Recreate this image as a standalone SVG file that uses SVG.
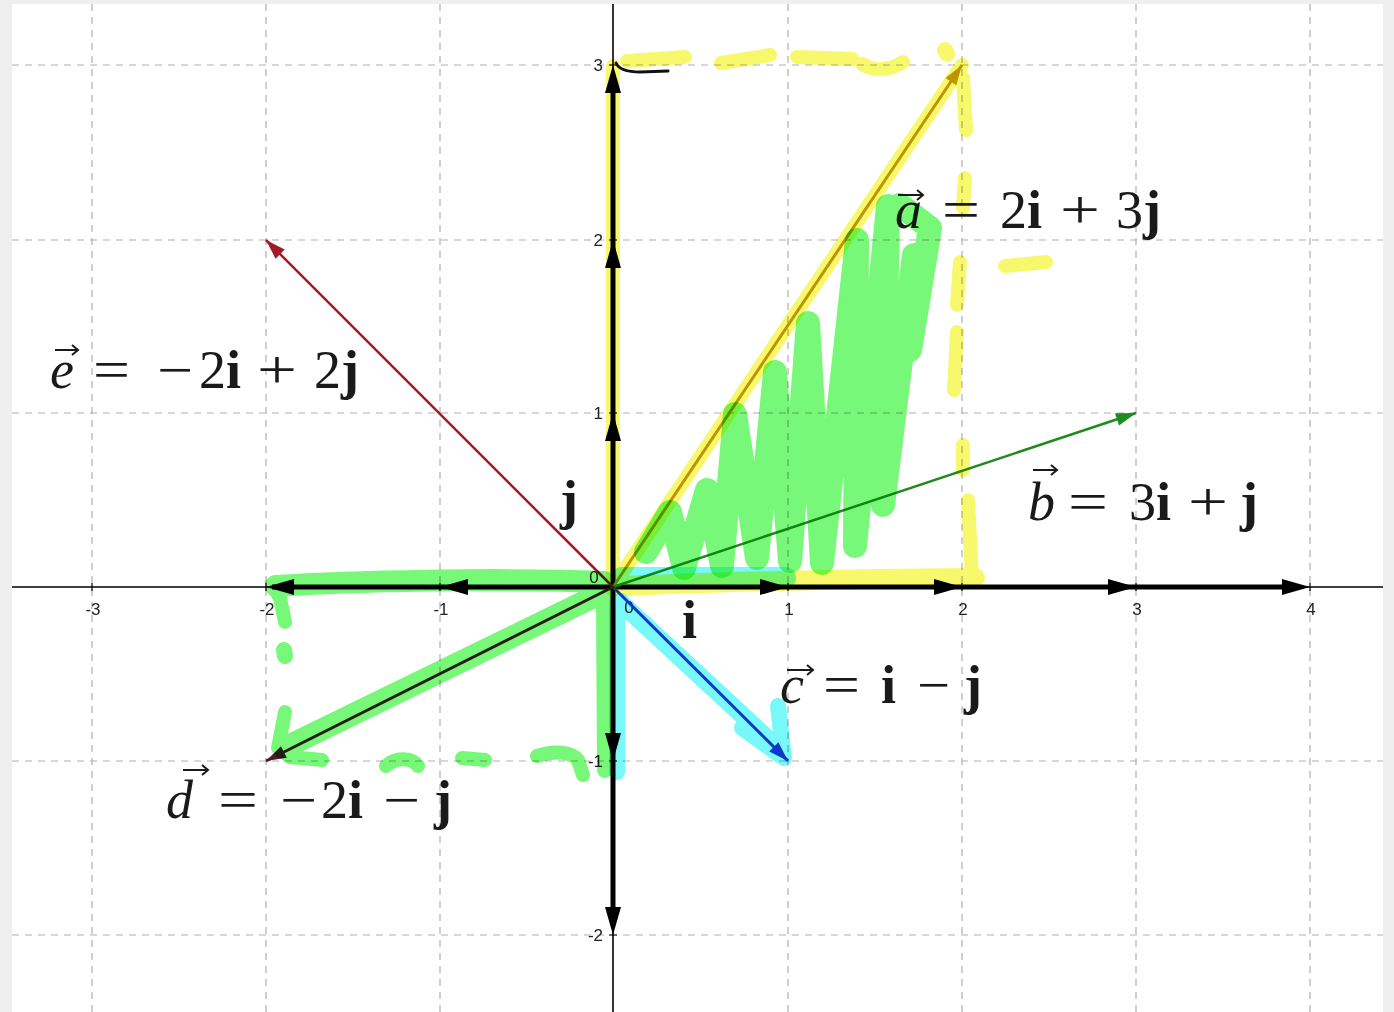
<svg xmlns="http://www.w3.org/2000/svg" width="1394" height="1012" viewBox="0 0 1394 1012">
<style>
.grid{stroke:#b0b0b0;stroke-width:1.2;stroke-dasharray:7 6;fill:none}
.tick{font-family:"Liberation Sans",Arial,sans-serif;font-size:17px;fill:#222}
.m{font-family:"Liberation Serif","Times New Roman",serif;font-size:54px;fill:#1a1a1a}
.it{font-style:italic}
.bd{font-weight:bold}
.acc{stroke:#1a1a1a;stroke-width:2;fill:none}
.hl{mix-blend-mode:multiply}
.hl path{fill:none;stroke-linecap:round;stroke-linejoin:round}
.hy path{stroke:#f8f86c}
.hg path{stroke:#78f878}
.hc path{stroke:#78f8f8}
</style>
<defs>
<path id="ah" d="M0,0 L-28,-8 L-28,8 z" fill="#000"/>
<marker id="mA" viewBox="-22 -8 24 16" refX="0" refY="0" markerWidth="24" markerHeight="16" markerUnits="userSpaceOnUse" orient="auto"><path d="M0,0 L-20,-6.5 L-20,6.5 z" fill="#c49800"/></marker>
<marker id="mB" viewBox="-22 -8 24 16" refX="0" refY="0" markerWidth="24" markerHeight="16" markerUnits="userSpaceOnUse" orient="auto"><path d="M0,0 L-20,-6.5 L-20,6.5 z" fill="#1f8a1f"/></marker>
<marker id="mC" viewBox="-22 -8 24 16" refX="0" refY="0" markerWidth="24" markerHeight="16" markerUnits="userSpaceOnUse" orient="auto"><path d="M0,0 L-20,-6.5 L-20,6.5 z" fill="#1a3acc"/></marker>
<marker id="mD" viewBox="-22 -8 24 16" refX="0" refY="0" markerWidth="24" markerHeight="16" markerUnits="userSpaceOnUse" orient="auto"><path d="M0,0 L-20,-6.5 L-20,6.5 z" fill="#4a1c2c"/></marker>
<marker id="mE" viewBox="-22 -8 24 16" refX="0" refY="0" markerWidth="24" markerHeight="16" markerUnits="userSpaceOnUse" orient="auto"><path d="M0,0 L-20,-6.5 L-20,6.5 z" fill="#a01a2a"/></marker>
</defs>

<rect x="0" y="0" width="1394" height="1012" fill="#efefef"/>
<rect x="12" y="4" width="1371" height="1008" fill="#ffffff"/>

<g id="grid">
<path class="grid" d="M92,4 V1012 M266,4 V1012 M440,4 V1012 M788,4 V1012 M962,4 V1012 M1136,4 V1012 M1310,4 V1012"/>
<path class="grid" d="M12,65 H1383 M12,240 H1383 M12,413 H1383 M12,761 H1383 M12,935 H1383"/>
</g>

<g id="axes">
<path d="M12,587 H1383 M613,4 V1012" stroke="#000" stroke-width="1.6" fill="none"/>
<path d="M92,583 V591 M266,583 V591 M440,583 V591 M788,583 V591 M962,583 V591 M1136,583 V591 M1310,583 V591 M609,65 H617 M609,240 H617 M609,413 H617 M609,761 H617 M609,935 H617" stroke="#000" stroke-width="1.2"/>
<text class="tick" x="93" y="615" text-anchor="middle">-3</text>
<text class="tick" x="267" y="615" text-anchor="middle">-2</text>
<text class="tick" x="441" y="615" text-anchor="middle">-1</text>
<text class="tick" x="789" y="615" text-anchor="middle">1</text>
<text class="tick" x="963" y="615" text-anchor="middle">2</text>
<text class="tick" x="1137" y="615" text-anchor="middle">3</text>
<text class="tick" x="1311" y="615" text-anchor="middle">4</text>
<text class="tick" x="629" y="613" text-anchor="middle">0</text>
<text class="tick" x="594" y="583" text-anchor="middle">0</text>
<text class="tick" x="603" y="71" text-anchor="end">3</text>
<text class="tick" x="603" y="246" text-anchor="end">2</text>
<text class="tick" x="603" y="419" text-anchor="end">1</text>
<text class="tick" x="603" y="767" text-anchor="end">-1</text>
<text class="tick" x="603" y="941" text-anchor="end">-2</text>
</g>

<g id="unit-vectors">
<path d="M272,587 H1300 M613,75 V925" stroke="#000" stroke-width="5" fill="none"/>
<use href="#ah" transform="translate(788,587)"/>
<use href="#ah" transform="translate(962,587)"/>
<use href="#ah" transform="translate(1136,587)"/>
<use href="#ah" transform="translate(1310,587)"/>
<use href="#ah" transform="translate(440,587) rotate(180)"/>
<use href="#ah" transform="translate(266,587) rotate(180)"/>
<use href="#ah" transform="translate(613,413) rotate(-90)"/>
<use href="#ah" transform="translate(613,240) rotate(-90)"/>
<use href="#ah" transform="translate(613,65) rotate(-90)"/>
<use href="#ah" transform="translate(613,761) rotate(90)"/>
<use href="#ah" transform="translate(613,935) rotate(90)"/>
</g>

<g id="vectors" fill="none">
<path id="vec-a" d="M613,587 L962,65" stroke="#c49800" stroke-width="3" marker-end="url(#mA)"/>
<path id="vec-b" d="M613,587 L1136,413" stroke="#1f8a1f" stroke-width="2.5" marker-end="url(#mB)"/>
<path id="vec-c" d="M613,587 L788,761" stroke="#1a3acc" stroke-width="3" marker-end="url(#mC)"/>
<path id="vec-d" d="M613,587 L266,761" stroke="#4a1c2c" stroke-width="3" marker-end="url(#mD)"/>
<path id="vec-e" d="M613,587 L266,240" stroke="#a01a2a" stroke-width="2.5" marker-end="url(#mE)"/>
</g>

<g id="label-a">
<text class="m it" x="895" y="228">a</text>
<path class="acc" d="M898,195 H922 M917,190 L923,195 L917,200"/>
<text class="m" x="942" y="228" textLength="38" lengthAdjust="spacingAndGlyphs">=</text>
<text class="m" x="1000" y="228">2<tspan class="bd">i</tspan></text>
<text class="m" x="1060" y="228" textLength="40" lengthAdjust="spacingAndGlyphs">+</text>
<text class="m" x="1116" y="228">3<tspan class="bd">j</tspan></text>
</g>

<g id="label-b">
<text class="m it" x="1028" y="520">b</text>
<path class="acc" d="M1033,470 H1056 M1051,465 L1057,470 L1051,475"/>
<text class="m" x="1068" y="520" textLength="40" lengthAdjust="spacingAndGlyphs">=</text>
<text class="m" x="1129" y="520">3<tspan class="bd">i</tspan></text>
<text class="m" x="1188" y="520" textLength="40" lengthAdjust="spacingAndGlyphs">+</text>
<text class="m bd" x="1240" y="520">j</text>
</g>

<g id="label-c">
<text class="m it" x="780" y="703">c</text>
<path class="acc" d="M787,670 H812 M807,665 L813,670 L807,675"/>
<text class="m" x="823" y="703" textLength="37" lengthAdjust="spacingAndGlyphs">=</text>
<text class="m bd" x="881" y="703">i</text>
<text class="m" x="917" y="703" textLength="33" lengthAdjust="spacingAndGlyphs">−</text>
<text class="m bd" x="964" y="703">j</text>
</g>

<g id="label-d">
<text class="m it" x="166" y="818">d</text>
<path class="acc" d="M183,770 H207 M202,765 L208,770 L202,775"/>
<text class="m" x="218" y="818" textLength="40" lengthAdjust="spacingAndGlyphs">=</text>
<text class="m" x="280" y="818" textLength="37" lengthAdjust="spacingAndGlyphs">−</text>
<text class="m" x="321" y="818">2<tspan class="bd">i</tspan></text>
<text class="m" x="383" y="818" textLength="37" lengthAdjust="spacingAndGlyphs">−</text>
<text class="m bd" x="434" y="818">j</text>
</g>

<g id="label-e">
<text class="m it" x="50" y="388">e</text>
<path class="acc" d="M55,350 H77 M72,345 L78,350 L72,355"/>
<text class="m" x="93" y="388" textLength="37" lengthAdjust="spacingAndGlyphs">=</text>
<text class="m" x="157" y="388" textLength="36" lengthAdjust="spacingAndGlyphs">−</text>
<text class="m" x="199" y="388">2<tspan class="bd">i</tspan></text>
<text class="m" x="257" y="388" textLength="40" lengthAdjust="spacingAndGlyphs">+</text>
<text class="m" x="314" y="388">2<tspan class="bd">j</tspan></text>
</g>

<g id="label-i"><text class="m bd" x="682" y="638">i</text></g>
<g id="label-j"><text class="m bd" x="560" y="518">j</text></g>

<g id="highlight-yellow" class="hl hy">
<path stroke-width="14" d="M613,590 L613,66"/>
<path stroke-width="14" d="M613,587 L962,65"/>
<path stroke-width="20" d="M628,586 C700,582 900,578 975,578"/>
<path stroke-width="14" d="M627,61 L685,57"/>
<path stroke-width="14" d="M721,63 L770,55"/>
<path stroke-width="14" d="M797,57 L852,59"/>
<path stroke-width="14" d="M862,64 C875,72 890,70 903,62"/>
<path stroke-width="16" d="M945,50 L947,54"/>
<path stroke-width="14" d="M963,78 L966,130"/>
<path stroke-width="14" d="M965,178 L963,208"/>
<path stroke-width="14" d="M1005,266 L1046,262"/>
<path stroke-width="14" d="M960,262 L957,305"/>
<path stroke-width="14" d="M957,332 L954,390"/>
<path stroke-width="14" d="M963,445 L963,470"/>
<path stroke-width="14" d="M968,500 L972,578"/>
</g>

<g id="highlight-cyan" class="hl hc">
<path stroke-width="22" d="M622,578 L785,578"/>
<path stroke-width="18" d="M620,602 L782,752"/>
<path stroke-width="16" d="M742,728 L784,758 L778,706"/>
<path stroke-width="16" d="M617,602 L617,772"/>
</g>

<g id="highlight-green" class="hl hg">
<path stroke-width="24" d="M646,552 L670,512 L684,568 L707,490 L722,566 L735,414 L757,558 L775,372 L790,561 L808,323 L822,563 L857,240 L855,546 L888,206 L883,505 L914,255 L910,350 L930,228 L900,205"/>
<path stroke-width="22" d="M276,586 C350,581 500,578 604,582"/>
<path stroke-width="14" d="M272,584 L280,598 L285,622"/>
<path stroke-width="16" d="M284,650 L285,656"/>
<path stroke-width="22" d="M604,592 L284,748"/>
<path stroke-width="14" d="M285,712 L278,748 L290,757 L322,760"/>
<path stroke-width="14" d="M386,766 C395,757 412,757 418,766"/>
<path stroke-width="14" d="M462,758 L485,760"/>
<path stroke-width="14" d="M537,756 C555,750 572,752 578,760 L583,775"/>
<path stroke-width="16" d="M604,602 L605,770"/>
</g>

<path d="M616,63 Q620,72 640,72 L668,71" stroke="#111" stroke-width="3" fill="none" stroke-linecap="round"/>
</svg>
